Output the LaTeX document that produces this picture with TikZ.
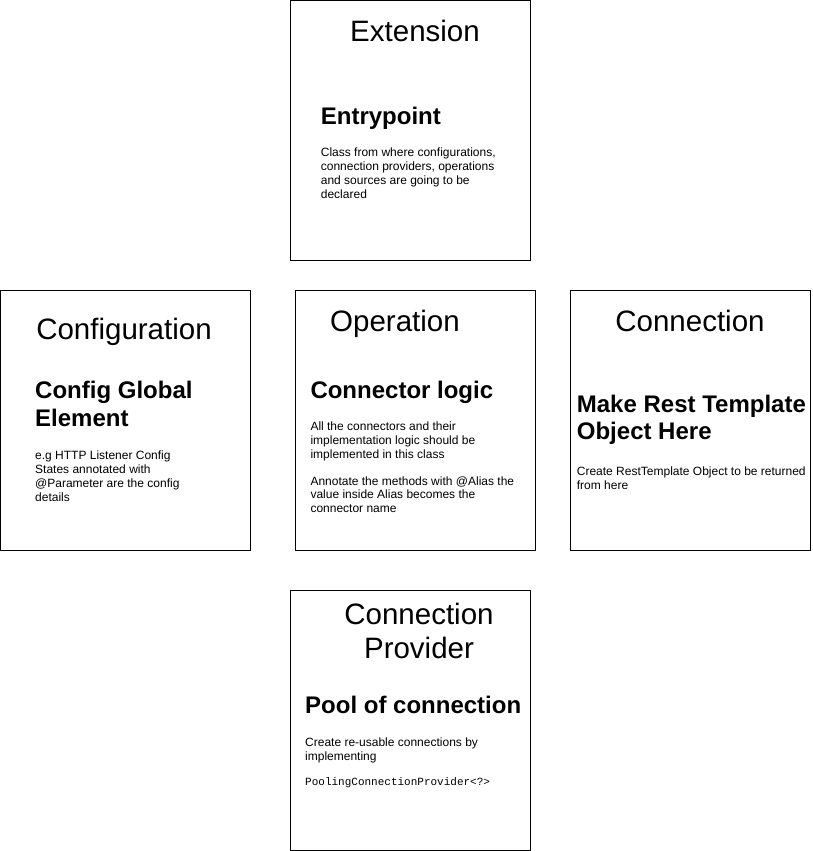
\documentclass[tikz,border=0pt]{standalone}
\usepackage{fontspec}
\setmainfont{Liberation Sans}
\setmonofont{Liberation Mono}
\usetikzlibrary{positioning}

\begin{document}
\begin{tikzpicture}[x=1pt, y=-1pt,
  box/.style={draw, line width=1pt, inner sep=0pt, minimum width=240pt, minimum height=260pt},
  ttl/.style={anchor=base, inner sep=0pt, align=center, font=\fontsize{29.5}{33.5}\selectfont},
  hd/.style={anchor=base west, inner sep=0pt, align=left, font=\fontsize{24}{27.6}\selectfont\bfseries},
  bd/.style={anchor=base west, inner sep=0pt, align=left, font=\fontsize{12}{13.8}\selectfont}]
\useasboundingbox (0,0) rectangle (812,851);
% boxes
\node[box] (ext) at (410.5,130.5) {};
\node[box, minimum width=250pt] (cfg) at (125.5,420.5) {};
\node[box] (op) at (415.5,420.5) {};
\node[box] (con) at (690.5,420.5) {};
\node[box] (prov) at (410.5,720.5) {};
% Extension (multi-line texts sit on their last baseline)
\path
(415,41.7) node[ttl] (extT) {Extension};
\path
(320.7,124) node[hd] (extH) {Entrypoint};
\path
(320.7,198.1) node[bd] (extB) {Class from where configurations,\\connection providers, operations\\and sources are going to be\\declared};
% Configuration
\path
(124,339.7) node[ttl] (cfgT) {Configuration};
\path
(35,426.3) node[hd] (cfgH) {Config Global\\Element};
\path
(35,501.1) node[bd] (cfgB) {e.g HTTP Listener Config\\States annotated with\\@Parameter are the config\\details};
% Operation
\path
(395,331.3) node[ttl] (opT) {Operation};
\path
(310.3,398) node[hd] (opH) {Connector logic};
\path
(310.3,512.7) node[bd] (opB) {All the connectors and their\\implementation logic should be\\implemented in this class\\[13.2pt]Annotate the methods with @Alias the\\value inside Alias becomes the\\connector name};
% Connection
\path
(690,331.3) node[ttl] (conT) {Connection};
\path
(576.7,439.7) node[hd] (conH) {Make Rest Template\\Object Here};
\path
(576.7,489.1) node[bd] (conB) {Create RestTemplate Object to be returned\\from here};
% Connection Provider
\path
(419,658) node[ttl] (provT) {Connection\\Provider};
\path
(305,713) node[hd] (provH) {Pool of connection};
\path
(305,785) node[bd] (provB) {Create re-usable connections by\\implementing\\[11.2pt]{\ttfamily\fontsize{11}{13}\selectfont PoolingConnectionProvider<?>}};
\end{tikzpicture}
\end{document}
